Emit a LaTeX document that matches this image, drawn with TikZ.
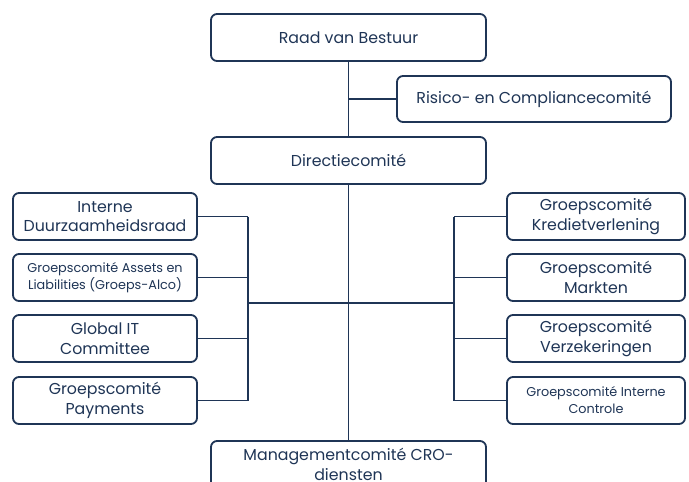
\documentclass[tikz,border=0pt]{standalone}
\usepackage{fontspec}
\setmainfont{Poppins}
\definecolor{navy}{HTML}{1F3556}

\begin{document}
\begin{tikzpicture}[x=1pt,y=-1pt,
    box/.style={draw=navy,line width=1.8pt,rounded corners=6pt,fill=white,
      text=navy,align=center,font=\fontsize{15.8}{19.5}\selectfont,
      minimum width=275pt,minimum height=47pt,inner sep=1pt},
    sidebox/.style={box,minimum width=184pt},
    small/.style={font=\fontsize{12.8}{17}\selectfont},
    link/.style={draw=navy,line width=1.4pt}]
    \useasboundingbox (0,0) rectangle (689,482);
    % top of the chart
    \node[box] (raad) at (348.5,37.5) {Raad van Bestuur};
    \node[box,minimum width=274pt,minimum height=46pt] (risk) at (534,99) {Risico- en Compliancecomité};
    \node[box] (dir) at (348.5,160.5) {Directiecomité};
    \node[box] (mgmt) at (348.5,464.5) {Managementcomité CRO-\\diensten};
    % left committees
    \node[sidebox] (l1) at (105,216.5) {Interne\\Duurzaamheidsraad};
    \node[sidebox,small] (l2) at (105,277.5) {Groepscomité Assets en\\Liabilities (Groeps-Alco)};
    \node[sidebox] (l3) at (105,338.5) {Global IT\\Committee};
    \node[sidebox] (l4) at (105,400.5) {Groepscomité\\Payments};
    % right committees
    \node[sidebox,minimum width=178pt] (r1) at (596,216.5) {Groepscomité\\Kredietverlening};
    \node[sidebox,minimum width=178pt] (r2) at (596,277.5) {Groepscomité\\Markten};
    \node[sidebox,minimum width=178pt] (r3) at (596,338.5) {Groepscomité\\Verzekeringen};
    \node[sidebox,minimum width=178pt,small] (r4) at (596,400.5) {Groepscomité Interne\\Controle};
    \coordinate (lbus) at (248,303);
    \coordinate (rbus) at (454,303);
    \draw[link] (raad) -- (dir);
    \draw[link] (dir) -- (mgmt);
    \draw[link] (risk.west) -- (risk.west -| raad.south);
    \draw[link] (lbus) -- (rbus);
    \draw[link] (l1.east -| lbus) -- (l4.east -| lbus);
    \draw[link] (r1.west -| rbus) -- (r4.west -| rbus);
    \foreach \n in {l1,l2,l3,l4}
    \draw[link] (\n.east) -- (\n.east -| lbus);
    \foreach \n in {r1,r2,r3,r4}
    \draw[link] (\n.west) -- (\n.west -| rbus);
\end{tikzpicture}
\end{document}
